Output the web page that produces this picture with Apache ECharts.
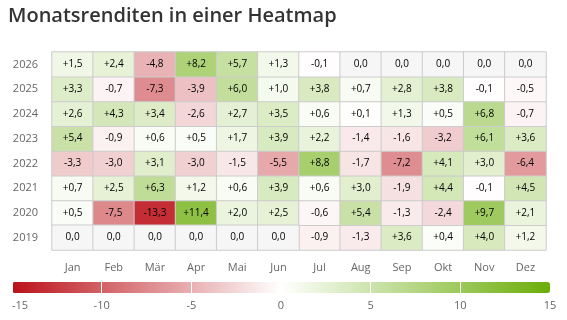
<!DOCTYPE html>
<html>
<head>
<meta charset="utf-8">
<script src="https://cdn.jsdelivr.net/npm/echarts@6/dist/echarts.min.js"></script>
<style>
  html, body { margin: 0; padding: 0; background: #fff; }
  #chart { width: 567px; height: 320px; }
</style>
</head>
<body>
<div id="chart"></div>
<script>
// Months along the x axis, years bottom to top
const months = ["Jan", "Feb", "Mär", "Apr", "Mai", "Jun", "Jul", "Aug", "Sep", "Okt", "Nov", "Dez"];
const years = ["2019", "2020", "2021", "2022", "2023", "2024", "2025", "2026"];

// Monthly returns in percent, one array per year
const r2019 = [0.0, 0.0, 0.0, 0.0, 0.0, 0.0, -0.9, -1.3, 3.6, 0.4, 4.0, 1.2];
const r2020 = [0.5, -7.5, -13.3, 11.4, 2.0, 2.5, -0.6, 5.4, -1.3, -2.4, 9.7, 2.1];
const r2021 = [0.7, 2.5, 6.3, 1.2, 0.6, 3.9, 0.6, 3.0, -1.9, 4.4, -0.1, 4.5];
const r2022 = [-3.3, -3.0, 3.1, -3.0, -1.5, -5.5, 8.8, -1.7, -7.2, 4.1, 3.0, -6.4];
const r2023 = [5.4, -0.9, 0.6, 0.5, 1.7, 3.9, 2.2, -1.4, -1.6, -3.2, 6.1, 3.6];
const r2024 = [2.6, 4.3, 3.4, -2.6, 2.7, 3.5, 0.6, 0.1, 1.3, 0.5, 6.8, -0.7];
const r2025 = [3.3, -0.7, -7.3, -3.9, 6.0, 1.0, 3.8, 0.7, 2.8, 3.8, -0.1, -0.5];
const r2026 = [1.5, 2.4, -4.8, 8.2, 5.7, 1.3, -0.1, 0.0, 0.0, 0.0, 0.0, 0.0];
const returns = [r2019, r2020, r2021, r2022, r2023, r2024, r2025, r2026];

// Colour scale ticks
const scaleMin = -15;
const scaleMax = 15;

// split into coloured cells and empty (0,0) cells
const valueCells = [];
const zeroCells = [];
returns.forEach((row, y) => {
  row.forEach((v, x) => {
    if (v === 0) zeroCells.push([x, y, v]);
    else valueCells.push([x, y, v]);
  });
});

function fmt(v) {
  const s = Math.abs(v).toFixed(1).replace(".", ",");
  if (v > 0) return "+" + s;
  if (v < 0) return "-" + s;
  return s;
}

const font = "'Open Sans', sans-serif";
const cellLabel = {
  show: true,
  color: "#000",
  fontSize: 10,
  fontFamily: font,
  formatter: (p) => fmt(p.value[2]),
};

var chart = echarts.init(document.getElementById("chart"), null, { renderer: "canvas" });

chart.setOption({
  animation: false,
  title: {
    text: "Monatsrenditen in einer Heatmap",
    left: 3,
    top: 1,
    textStyle: { fontFamily: font, fontSize: 20, fontWeight: 600, color: "#333" },
  },
  grid: [
    { left: 52, right: 21, top: 52, height: 198 },
    // holds the tick labels under the colour bar
    { left: 12, right: 17, top: 282, height: 11 },
  ],
  xAxis: [
    {
      type: "category",
      data: months,
      gridIndex: 0,
      axisLine: { show: false },
      axisTick: { show: false },
      axisLabel: { color: "#666", fontSize: 11, fontFamily: font, margin: 12 },
    },
    {
      type: "value",
      gridIndex: 1,
      min: scaleMin,
      max: scaleMax,
      interval: 5,
      z: 10,
      axisLine: { show: false },
      axisTick: { show: false },
      axisLabel: { color: "#666", fontSize: 11, fontFamily: font, margin: 7, alignMinLabel: "left" },
      splitLine: { show: true, lineStyle: { color: "#fff", width: 1 } },
    },
  ],
  yAxis: [
    {
      type: "category",
      data: years,
      gridIndex: 0,
      axisLine: { show: false },
      axisTick: { show: false },
      axisLabel: { color: "#666", fontSize: 11, fontFamily: font, margin: 14 },
    },
    {
      type: "value",
      gridIndex: 1,
      show: false,
    },
  ],
  visualMap: {
    type: "continuous",
    seriesIndex: 0,
    min: scaleMin,
    max: scaleMax,
    orient: "horizontal",
    left: 12,
    top: 282,
    padding: 0,
    itemWidth: 11,
    itemHeight: 538,
    calculable: false,
    text: null,
    showLabel: false,
    inRange: { color: ["#bb1219", "#ffffff", "#6aad08"] },
  },
  series: [
    {
      type: "heatmap",
      data: valueCells,
      label: cellLabel,
      itemStyle: { borderColor: "#cccccc", borderWidth: 1 },
    },
    {
      type: "heatmap",
      data: zeroCells,
      label: cellLabel,
      itemStyle: { color: "#f6f6f6", borderColor: "#cccccc", borderWidth: 1 },
    },
  ],
});
</script>
</body>
</html>
